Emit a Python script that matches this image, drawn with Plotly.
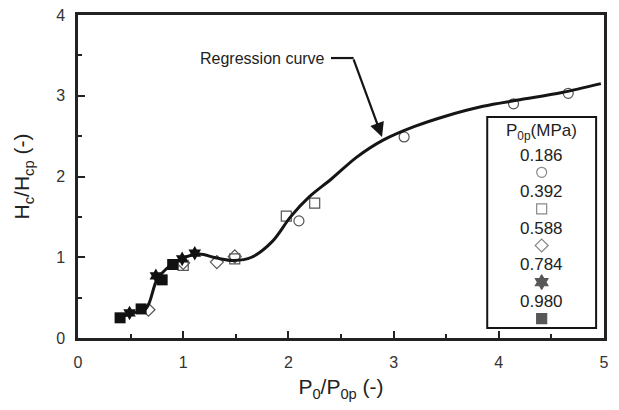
import plotly.graph_objects as go

# ---- data ----
series_labels = ["0.186", "0.392", "0.588", "0.784", "0.980"]

x_0186 = [2.10, 3.10, 4.14, 4.66]
y_0186 = [1.45, 2.49, 2.90, 3.03]

x_0392 = [1.00, 1.49, 1.98, 2.25]
y_0392 = [0.90, 0.98, 1.51, 1.67]

x_0588 = [0.67, 1.00, 1.32, 1.49]
y_0588 = [0.35, 0.93, 0.94, 1.01]

x_0784 = [0.49, 0.74, 0.99, 1.11]
y_0784 = [0.31, 0.77, 0.98, 1.05]

x_0980 = [0.40, 0.60, 0.80, 0.90]
y_0980 = [0.25, 0.36, 0.72, 0.91]

reg_x = [0.40, 0.52, 0.65, 0.75, 0.87, 1.00, 1.15, 1.32, 1.48, 1.65, 1.85,
         2.02, 2.20, 2.40, 2.65, 2.90, 3.20, 3.50, 3.85, 4.20, 4.60, 4.97]
reg_y = [0.26, 0.31, 0.37, 0.72, 0.89, 0.99, 1.04, 0.99, 0.96, 1.00, 1.20,
         1.50, 1.75, 1.96, 2.24, 2.45, 2.62, 2.75, 2.87, 2.95, 3.04, 3.15]

x_ticks = [0, 1, 2, 3, 4, 5]
y_ticks = [0, 1, 2, 3, 4]

symbols = ["circle-open", "square-open", "diamond-open", "hexagram", "square"]
colors = ["#555555", "#555555", "#555555", "#111111", "#111111"]
sizes = [10, 10, 10, 11, 11]
series_x = [x_0186, x_0392, x_0588, x_0784, x_0980]
series_y = [y_0186, y_0392, y_0588, y_0784, y_0980]

FONT = "Liberation Sans, Arial, sans-serif"

fig = go.Figure()

for i in range(3):
    fig.add_trace(go.Scatter(
        x=series_x[i], y=series_y[i], mode="markers", showlegend=False,
        marker=dict(symbol=symbols[i], size=sizes[i], color=colors[i],
                    line=dict(width=1.2, color=colors[i]))))

fig.add_trace(go.Scatter(
    x=reg_x, y=reg_y, mode="lines", showlegend=False,
    line=dict(color="#151515", width=3, shape="spline", smoothing=0.9)))

for i in range(3, 5):
    fig.add_trace(go.Scatter(
        x=series_x[i], y=series_y[i], mode="markers", showlegend=False,
        marker=dict(symbol=symbols[i], size=sizes[i], color=colors[i],
                    line=dict(width=0, color=colors[i]))))

# ---- custom legend on a hidden overlay axis ----
title_y = 0.930
text_y0, sym_y0, step = 0.820, 0.738, 0.1735
fig.add_trace(go.Scatter(
    x=[0.5] * len(series_labels),
    y=[sym_y0 - step * i for i in range(len(series_labels))],
    xaxis="x2", yaxis="y2", mode="markers", showlegend=False,
    marker=dict(symbol=symbols, size=[10, 10, 10, 11, 10], color=colors,
                line=dict(width=1.2, color=colors))))

annotations = [dict(x=0.5, y=title_y, xref="x2", yref="y2",
                    text="P<sub>0p</sub>(MPa)", showarrow=False,
                    font=dict(family=FONT, size=17, color="#222"))]
for i, lab in enumerate(series_labels):
    annotations.append(dict(x=0.5, y=text_y0 - step * i, xref="x2", yref="y2",
                            text=lab, showarrow=False,
                            font=dict(family=FONT, size=17, color="#222")))

annotations.append(dict(x=2.37, y=3.467, xref="x", yref="y", xanchor="right",
                        text="Regression curve", showarrow=False,
                        font=dict(family=FONT, size=16, color="#222")))
annotations.append(dict(x=2.89, y=2.49, xref="x", yref="y", text="",
                        showarrow=True, ax=-29, ay=-79, axref="pixel", ayref="pixel",
                        arrowhead=2, arrowsize=1.3, arrowwidth=2.2, arrowcolor="#151515"))

shapes = [
    dict(type="line", xref="x", yref="y", x0=2.405, y0=3.467, x1=2.62, y1=3.467,
         line=dict(color="#151515", width=2.2)),
    dict(type="rect", xref="paper", yref="paper", x0=0.778, x1=0.985, y0=0.031, y1=0.684,
         line=dict(color="#151515", width=2), fillcolor="rgba(0,0,0,0)"),
]

axis_common = dict(
    showline=True, linewidth=2.5, linecolor="#222", mirror=True,
    showgrid=False, zeroline=False, automargin=False, ticklabeloverflow="allow",
    ticks="inside", ticklen=7, tickwidth=2, tickcolor="#222",
    minor=dict(ticks="inside", ticklen=4, tickwidth=1.5, tickcolor="#222", dtick=0.5, showgrid=False),
    tickfont=dict(family=FONT, size=16, color="#333"),
)

# the page body adds an 8px offset, so the figure is drawn 8px smaller
fig.update_layout(
    width=611, height=402,
    margin=dict(l=70, r=15, t=7, b=72),
    paper_bgcolor="white", plot_bgcolor="white",
    xaxis=dict(range=[0, 5], tickvals=x_ticks, ticklabelstandoff=8,
               title=dict(text="P<sub>0</sub>/P<sub>0p</sub> (-)", standoff=10,
                          font=dict(family=FONT, size=21, color="#222")),
               **axis_common),
    yaxis=dict(range=[0, 4], tickvals=y_ticks, ticklabelstandoff=7,
               title=dict(text="H<sub>c</sub>/H<sub>cp</sub> (-)", standoff=21,
                          font=dict(family=FONT, size=21, color="#222")),
               **axis_common),
    xaxis2=dict(domain=[0.778, 0.985], range=[0, 1], anchor="y2", visible=False, fixedrange=True),
    yaxis2=dict(domain=[0.031, 0.684], range=[0, 1], anchor="x2", visible=False, fixedrange=True),
    annotations=annotations,
    shapes=shapes,
)

fig.write_html("out.html")
